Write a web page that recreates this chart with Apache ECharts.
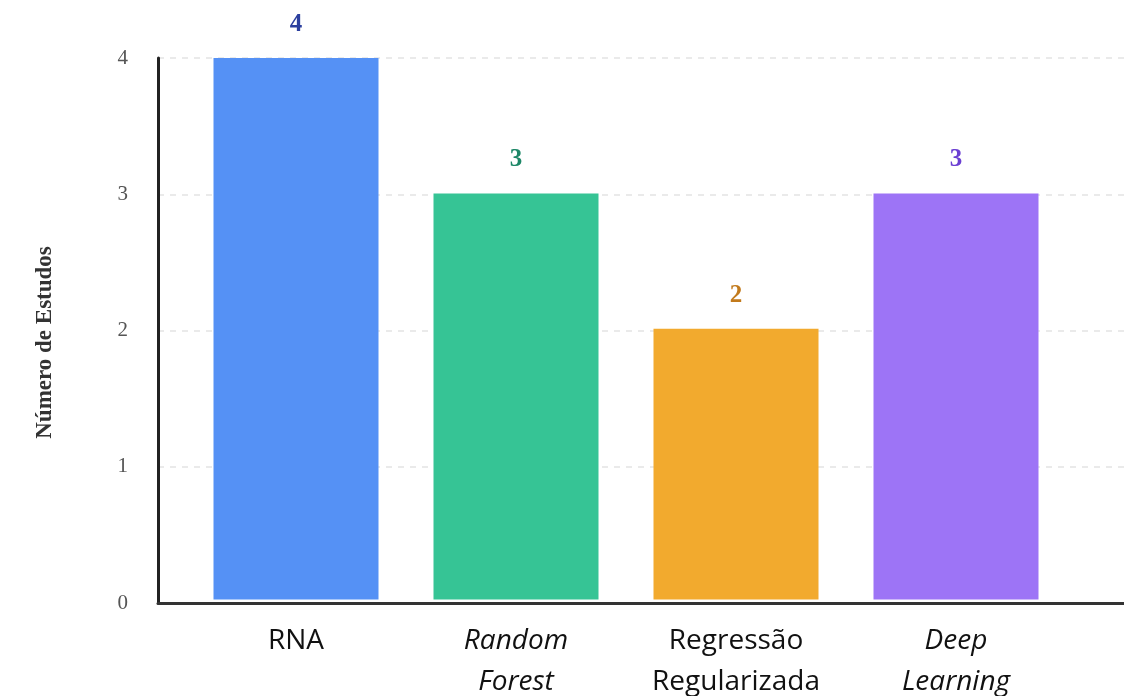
<!DOCTYPE html>
<html>
<head>
<meta charset="utf-8">
<script src="https://cdn.jsdelivr.net/npm/echarts@6/dist/echarts.min.js"></script>
<style>
html,body{margin:0;padding:0;background:#fff;}
#chart{width:1124px;height:696px;}
</style>
</head>
<body>
<div id="chart"></div>
<script>
const categories = ['RNA', 'Random Forest', 'Regressão Regularizada', 'Deep Learning'];
const italicCategories = ['Random Forest', 'Deep Learning'];
const values = [4, 3, 2, 3];
const yTicks = [0, 1, 2, 3, 4];
const yAxisTitle = 'Número de Estudos';

const barColors = ['#5591f5', '#36c495', '#f2aa2e', '#9d74f6'];
const labelColors = ['#2b3f9e', '#1d8767', '#c27a1c', '#6b3fd2'];

const chart = echarts.init(document.getElementById('chart'));
const gridTop = 58, gridBottom = 93;

chart.setOption({
  backgroundColor: '#ffffff',
  animation: false,
  grid: [
    { left: 158, right: 0, top: gridTop, bottom: gridBottom },
    { left: 186, right: 58, top: gridTop, bottom: gridBottom }
  ],
  xAxis: [
    {
      gridIndex: 0, type: 'category', data: [''],
      axisLine: { show: true, lineStyle: { color: '#333', width: 3 } },
      axisTick: { show: false }, axisLabel: { show: false }, splitLine: { show: false }
    },
    {
      gridIndex: 1, type: 'category', data: categories,
      axisLine: { show: false }, axisTick: { show: false },
      axisLabel: {
        interval: 0, margin: 21,
        formatter: function (v) {
          const style = italicCategories.indexOf(v) >= 0 ? 'i' : 'n';
          return v.split(' ').map(w => '{' + style + '|' + w + '}').join('\n');
        },
        rich: {
          n: { fontFamily: 'Open Sans', fontSize: 28, color: '#111', lineHeight: 41 },
          i: { fontFamily: 'Open Sans', fontStyle: 'italic', fontSize: 28, color: '#111', lineHeight: 41 }
        }
      }
    }
  ],
  yAxis: [
    {
      gridIndex: 0, type: 'value', min: 0, max: 4, interval: 1,
      name: yAxisTitle, nameLocation: 'middle', nameGap: 101,
      nameTextStyle: { fontFamily: 'Liberation Serif', fontWeight: 'bold', fontSize: 23, color: '#333', padding: [0, 24, 0, 0] },
      axisLine: { show: true, lineStyle: { color: '#222', width: 3 } },
      axisTick: { show: false },
      axisLabel: {
        margin: 30, fontFamily: 'Liberation Serif', fontSize: 21, color: '#555',
        formatter: function (v) { return yTicks.indexOf(v) >= 0 ? String(v) : ''; }
      },
      splitLine: { show: true, lineStyle: { color: '#e3e3e3', type: [6, 6], width: 1.5 } }
    },
    {
      gridIndex: 1, type: 'value', min: 0, max: 4, interval: 1,
      axisLine: { show: false }, axisTick: { show: false }, axisLabel: { show: false }, splitLine: { show: false }
    }
  ],
  series: [{
    type: 'bar', xAxisIndex: 1, yAxisIndex: 1,
    barWidth: 165,
    data: values.map((v, i) => ({
      value: v,
      itemStyle: { color: barColors[i] },
      label: { color: labelColors[i] }
    })),
    label: {
      show: true, position: 'top', distance: 21,
      fontFamily: 'Liberation Serif', fontWeight: 'bold', fontSize: 25
    }
  }]
});
</script>
</body>
</html>
